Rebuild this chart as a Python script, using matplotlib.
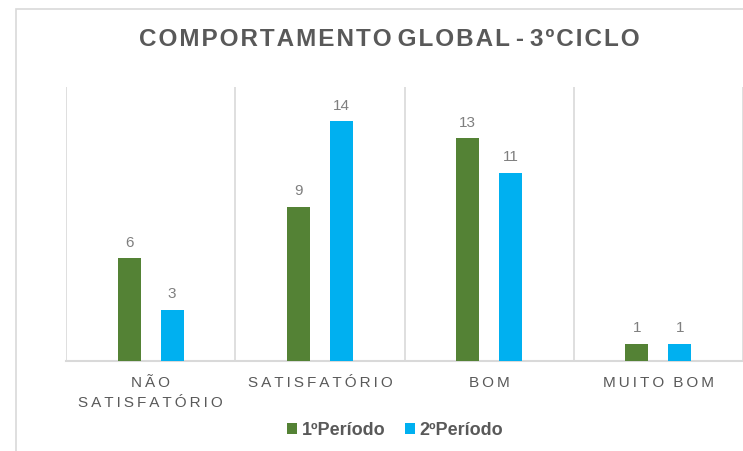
import matplotlib
matplotlib.use("Agg")
import matplotlib.pyplot as plt
import numpy as np
from matplotlib.patches import Rectangle

categories = ["NÃO\nSATISFATÓRIO", "SATISFATÓRIO", "BOM", "MUITO BOM"]
series_names = ["1ºPeríodo", "2ºPeríodo"]
periodo1 = [6, 9, 13, 1]
periodo2 = [3, 14, 11, 1]
title = "COMPORTAMENTO GLOBAL - 3ºCICLO"

green = "#548235"
blue = "#00B0F0"
txt = "#595959"
grid_c = "#d9d9d9"

plt.rcParams['font.family'] = ['Liberation Sans', 'DejaVu Sans']


def spaced(s, sep=" "):
    # imitate the wide letter spacing of the original
    lines = []
    for line in s.split("\n"):
        words = [sep.join(list(w)) for w in line.split(" ")]
        lines.append((sep * 3).join(words))
    return "\n".join(lines)


fig = plt.figure(figsize=(7.43, 4.52), dpi=100)
fig.patch.set_facecolor("white")

# chart frame (cut off at right and bottom)
fig.patches.append(Rectangle((16 / 743, -0.1), 1.0, 1 - 10 / 452 + 0.1,
                             transform=fig.transFigure, fill=False,
                             edgecolor=grid_c, linewidth=1.2))

ax = fig.add_axes([66 / 743, 1 - 362 / 452, 1 - 66 / 743, (362 - 88) / 452])

x = np.arange(len(categories))
w = 0.136
off = 0.127
b1 = ax.bar(x - off, periodo1, w, color=green, label=series_names[0], zorder=3)
b2 = ax.bar(x + off, periodo2, w, color=blue, label=series_names[1], zorder=3)

for bars in (b1, b2):
    for r in bars:
        ax.annotate(str(int(r.get_height())), (r.get_x() + r.get_width() / 2, r.get_height()),
                    xytext=(0, 7), textcoords="offset points", ha="center", va="bottom",
                    fontsize=11, color="#7f7f7f")

ax.set_xlim(-0.5, len(categories) - 0.5)
ax.set_ylim(0, 16)
ax.set_yticks([])
ax.set_xticks(x)
ax.set_xticklabels([spaced(c, "\u2009") for c in categories], fontsize=11, color=txt,
                   linespacing=1.55)
ax.tick_params(axis="x", length=0, pad=10)
ax.set_xticks(np.arange(-0.5, len(categories), 1.0), minor=True)
ax.tick_params(axis="x", which="minor", length=0)
ax.grid(True, which="minor", axis="x", color=grid_c, linewidth=1.2, zorder=0)
for s in ["top", "right", "left"]:
    ax.spines[s].set_visible(False)
ax.spines["bottom"].set_color(grid_c)
ax.spines["bottom"].set_linewidth(1.5)

fig.text(389 / 743, 1 - 40 / 452, spaced(title, "\u200a"), ha="center", va="center",
         fontsize=17.5, fontweight="bold", color=txt)

leg = fig.legend(handles=[b1, b2], loc="center", bbox_to_anchor=(395 / 743, 1 - 431 / 452),
                 ncol=2, frameon=False, handlelength=0.55, handleheight=0.55,
                 handletextpad=0.25, columnspacing=1.1,
                 prop={"size": 13, "weight": "bold"})
for t in leg.get_texts():
    t.set_color(txt)

fig.savefig("out.png", dpi=100, facecolor="white")
